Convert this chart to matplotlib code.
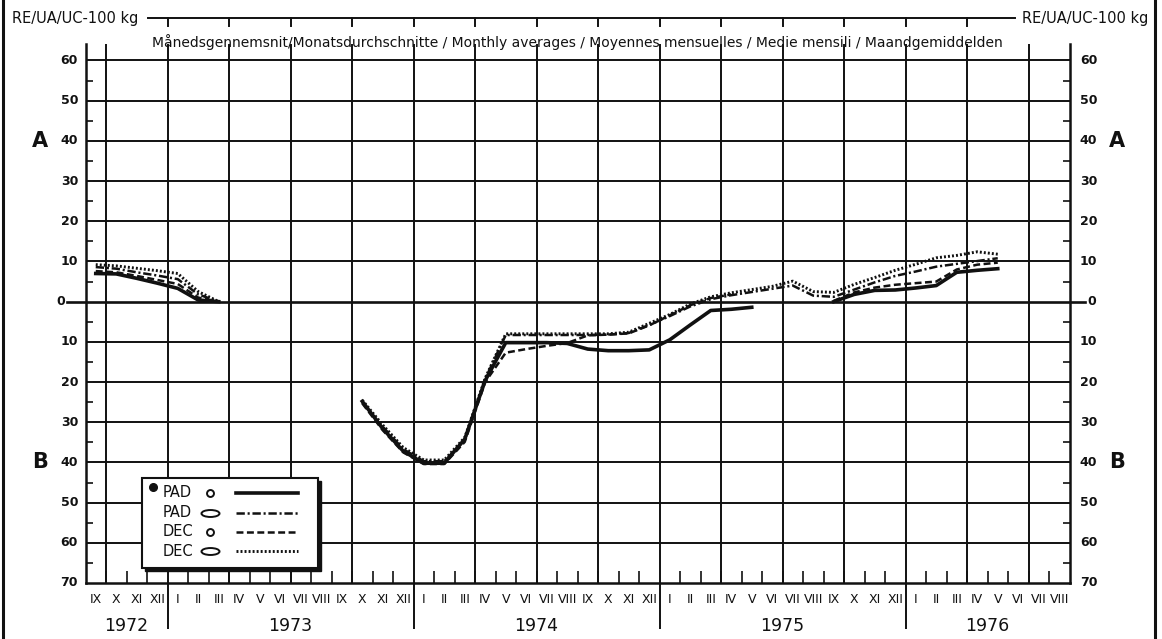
import numpy as np
import matplotlib
matplotlib.use("Agg")
import matplotlib.pyplot as plt
from matplotlib.transforms import blended_transform_factory as btf, Affine2D
from matplotlib.path import Path
from matplotlib.patches import Rectangle
from matplotlib.lines import Line2D

plt.rcParams['lines.scale_dashes'] = False
plt.rcParams['font.family'] = ['DejaVu Sans']

# ---------------- data ----------------
first_year, first_month, n_months = 1972, 9, 48
roman = ['I', 'II', 'III', 'IV', 'V', 'VI', 'VII', 'VIII', 'IX', 'X', 'XI', 'XII']
years = [1972, 1973, 1974, 1975, 1976]
ytick_values = [60, 50, 40, 30, 20, 10, 0, -10, -20, -30, -40, -50, -60, -70]
N = None
# monthly values, index 0 = Sep 1972 ... 47 = Aug 1976 (positive = A, negative = B)
pad_round = [7.0, 6.9, 5.8, 4.6, 3.3, 0.4, 0.0, N, N, N, N, N, N,
             -24.8, -31.6, -37.2, -40.2, -40.2, -34.2, -19.6, -10.2, -10.2, -10.2, -10.4,
             -11.8, -12.2, -12.2, -12.0, -9.5, -5.8, -2.2, -1.9, -1.4, N, N, N,
             0.0, 1.8, 2.8, 2.9, 3.4, 4.0, 7.3, 7.8, 8.2, N, N, N]
pad_long = [8.6, 8.2, 7.3, 6.5, 5.6, 1.8, 0.0, N, N, N, N, N, N,
            -25.1, -31.1, -36.7, -39.7, -39.7, -34.4, -19.2, -8.3, -8.3, -8.3, -8.3,
            -8.3, -8.2, -7.8, -5.8, -3.6, -1.2, 0.6, 1.6, 2.4, 3.2, 4.0, 1.5,
            1.2, 3.0, 4.8, 6.4, 7.5, 8.7, 9.4, 10.1, 10.8, N, N, N]
dec_round = [7.6, 7.3, 6.4, 5.4, 4.4, 1.0, 0.0, N, N, N, N, N, N,
             -25.3, -32.0, -37.5, -40.4, -40.4, -34.9, -20.0, -12.7, -11.8, -11.0, -10.3,
             -8.4, -8.2, -7.9, -5.9, -3.4, -0.9, 0.9, 1.8, N, N, N, N,
             0.2, 2.3, 3.5, 4.2, 4.6, 5.0, 8.0, 9.2, 9.7, N, N, N]
dec_long = [9.2, 8.9, 8.3, 7.7, 7.0, 2.5, 0.0, N, N, N, N, N, N,
            -24.5, -30.7, -36.3, -39.4, -39.4, -33.8, -19.0, -8.0, -8.0, -8.0, -8.0,
            -8.0, -8.0, -7.6, -5.4, -3.2, -0.6, 1.2, 2.2, 3.0, 3.8, 5.1, 2.5,
            2.3, 4.3, 6.0, 7.8, 9.3, 10.9, 11.5, 12.4, 11.8, N, N, N]
legend_names = ['PAD', 'PAD', 'DEC', 'DEC']
unit_label = 'RE/UA/UC-100 kg'
subtitle = ('Månedsgennemsnit/Monatsdurchschnitte / Monthly averages / '
            'Moyennes mensuelles / Medie mensili / Maandgemiddelden')

# ---------------- figure ----------------
W, H = 1162, 639
fig = plt.figure(figsize=(W / 100, H / 100), dpi=100)
AX_L, AX_R, AX_T, AX_B = 85.5, 1069.5, 44.4, 583.0
ax = fig.add_axes([AX_L / W, 1 - AX_B / H, (AX_R - AX_L) / W, (AX_B - AX_T) / H])
ax.set_xlim(0, n_months)
ax.set_ylim(-70, 64)

K = '#111111'
for s in ['left', 'right', 'bottom']:
    ax.spines[s].set_linewidth(1.8)
    ax.spines[s].set_color(K)
ax.spines['top'].set_visible(False)

# grid: quarters vertically, every 10 horizontally
month_index = np.arange(n_months)
cal_month = (first_month - 1 + month_index) % 12 + 1
quarter_pos = [i for i in month_index if cal_month[i] in (1, 4, 7, 10) and i > 0]
for q in quarter_pos:
    ax.axvline(q, color=K, lw=1.4, zorder=1)
for h in range(-60, 61, 10):
    if h != 0:
        ax.axhline(h, color=K, lw=1.4, zorder=1)
tr_ay = btf(ax.transAxes, ax.transData)
ax.plot([-0.0185, 1.016], [0, 0], color=K, lw=1.9, transform=tr_ay, clip_on=False, zorder=1)

# ticks
year_start = [i for i in month_index if cal_month[i] == 1]
ax.set_xticks(year_start)
ax.set_xticks(month_index[1:], minor=True)
ax.tick_params(axis='x', which='major', direction='out', length=33, width=1.4,
               color=K, labelbottom=False)
ax.tick_params(axis='x', which='minor', direction='in', length=9, width=1.2, color=K)
ax.set_yticks(ytick_values)
ax.set_yticks(np.arange(-65, 60, 10), minor=True)
ax.tick_params(axis='y', which='major', length=0, labelleft=False)
ax.tick_params(axis='y', which='minor', direction='in', length=5, width=1.2,
               left=True, right=True, color=K)

# y labels (both sides)
for v in ytick_values:
    lab = str(abs(v))
    xl = -0.0205 if v == 0 else -0.0075
    xr = 1.0185 if v == 0 else 1.0105
    ax.text(xl, v, lab, transform=tr_ay, ha='right', va='center',
            fontsize=9, fontweight='bold', color=K)
    ax.text(xr, v, lab, transform=tr_ay, ha='left', va='center',
            fontsize=9, fontweight='bold', color=K)

# A / B
for side_x in (-0.046, 1.048):
    ax.text(side_x, 40, 'A', transform=tr_ay, ha='center', va='center',
            fontsize=15, fontweight='bold', color=K)
    ax.text(side_x, -40, 'B', transform=tr_ay, ha='center', va='center',
            fontsize=15, fontweight='bold', color=K)

# month / year labels
tr_xa = btf(ax.transData, ax.transAxes)
narrow = ['Liberation Sans Narrow', 'DejaVu Sans']
for i in month_index:
    ax.text(i + 0.5, -0.031, roman[cal_month[i] - 1], transform=tr_xa,
            ha='center', va='center', fontsize=9, family=narrow, color=K)
year_of = first_year + (first_month - 1 + month_index) // 12
for y in years:
    idx = month_index[year_of == y]
    ax.text((idx[0] + idx[-1] + 1) / 2, -0.080, str(y), transform=tr_xa,
            ha='center', va='center', fontsize=12.5, family=narrow, color=K)

# series
x = month_index + 0.5
styles = [
    dict(lw=2.6, ls='-'),
    dict(lw=1.8, dashes=(6, 2, 1.5, 2)),
    dict(lw=1.8, dashes=(5, 2.5)),
    dict(lw=2.1, dashes=(1.4, 1.5)),
]
series = [pad_round, pad_long, dec_round, dec_long]
for vals, st in zip(series, styles):
    ax.plot(x, np.array(vals, dtype=float), color=K, zorder=3, **st)

# legend (manual)
bx0, bx1, by0, by1 = 0.0574, 0.2363, 0.0279, 0.195
ax.add_patch(Rectangle((bx0 + 0.003, by0 - 0.0056), bx1 - bx0, by1 - by0,
                       transform=ax.transAxes, facecolor=K, edgecolor=K, zorder=5))
ax.add_patch(Rectangle((bx0, by0), bx1 - bx0, by1 - by0, transform=ax.transAxes,
                       facecolor='white', edgecolor=K, lw=1.5, zorder=6))
ellipse = Path.unit_circle().transformed(Affine2D().scale(2.6, 1))
rows_y = [0.1671, 0.130, 0.0947, 0.0594]
for name, st, ry, k in zip(legend_names, styles, rows_y, range(4)):
    ax.text(0.0785, ry, name, transform=ax.transAxes, ha='left', va='center',
            fontsize=10.5, color=K, zorder=7)
    if k in (0, 2):
        ax.plot([0.1265], [ry], transform=ax.transAxes, marker='o', ms=5,
                mfc='white', mec=K, mew=1.4, zorder=7, ls='none')
    else:
        ax.plot([0.1265], [ry], transform=ax.transAxes, marker=ellipse, ms=13,
                mfc='white', mec=K, mew=1.4, zorder=7, ls='none')
    ax.plot([0.153, 0.216], [ry, ry], transform=ax.transAxes, color=K, zorder=7, **st)
ax.plot([0.0686], [0.178], transform=ax.transAxes, marker='o', ms=5.5, color=K,
        zorder=7, ls='none')

# header: unit labels, top rule with quarter ticks, subtitle
fig.text(12 / W, 1 - 18 / H, unit_label, ha='left', va='center', fontsize=10.5, color=K)
fig.text(1148 / W, 1 - 18 / H, unit_label, ha='right', va='center', fontsize=10.5, color=K)
top_y = 1 - 18.3 / H
fig.add_artist(Line2D([148 / W, 1015 / W], [top_y, top_y], color=K, lw=1.4))
tr_xf = btf(ax.transData, fig.transFigure)
for q in quarter_pos:
    if 4 <= q <= 43:
        ax.plot([q, q], [top_y, top_y - 8 / H], transform=tr_xf, color=K, lw=1.4,
                clip_on=False)
fig.text(577 / W, 1 - 42 / H, subtitle, ha='center', va='center', fontsize=10, color=K)

# outer frame marks
fig.add_artist(Line2D([3 / W, 3 / W], [0, 1], color=K, lw=2.2))
fig.add_artist(Line2D([1155 / W, 1155 / W], [0, 1], color=K, lw=2.2))

fig.savefig('out.png', dpi=100)
